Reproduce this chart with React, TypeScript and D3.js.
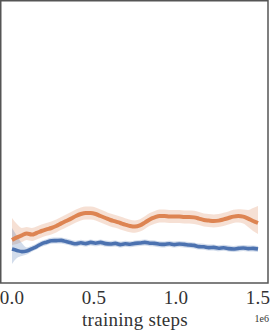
import React from "react";
import * as d3 from "d3";

const W = 272;
const H = 335;

const steps = d3.range(0, 1500001, 30000);

const orangeMean = [21.5, 22.8, 23.8, 24.8, 24.2, 25.0, 26.0, 26.8, 27.5, 28.5, 29.8, 31.0, 32.2, 33.5, 34.5, 35.0, 35.0, 34.5, 33.5, 32.5, 31.5, 30.8, 30.0, 29.2, 28.5, 28.2, 28.8, 30.2, 31.8, 32.8, 33.5, 33.5, 33.2, 33.2, 33.2, 33.0, 33.0, 32.8, 32.2, 31.5, 31.2, 31.0, 31.2, 31.8, 32.5, 33.2, 33.5, 33.2, 32.2, 31.0, 30.0];
const orangeUpper = [32.5, 29.5, 27.5, 28.0, 27.5, 28.2, 29.2, 30.0, 30.7, 31.7, 33.0, 34.2, 35.5, 36.8, 37.8, 38.3, 38.3, 37.8, 36.8, 35.8, 34.7, 34.0, 33.2, 32.4, 31.6, 31.3, 31.9, 33.4, 35.0, 36.0, 36.8, 36.8, 36.5, 36.5, 36.5, 36.3, 36.3, 36.1, 35.5, 34.8, 34.5, 34.3, 34.5, 35.1, 35.8, 36.6, 36.9, 36.8, 36.5, 37.5, 38.5];
const orangeLower = [19.0, 19.5, 20.5, 21.5, 21.0, 21.8, 22.8, 23.6, 24.3, 25.3, 26.6, 27.8, 29.0, 30.2, 31.2, 31.7, 31.7, 31.2, 30.2, 29.2, 28.3, 27.6, 26.8, 26.0, 25.4, 25.1, 25.7, 27.0, 28.6, 29.6, 30.3, 30.3, 30.0, 30.0, 30.0, 29.8, 29.8, 29.5, 29.0, 28.2, 28.0, 27.8, 28.0, 28.5, 29.2, 30.0, 30.2, 29.8, 28.0, 26.0, 24.5];

const blueMean = [17.0, 16.3, 15.7, 16.0, 17.1, 18.2, 19.6, 20.4, 21.1, 21.2, 21.3, 20.7, 20.1, 19.6, 20.1, 19.7, 20.3, 19.9, 20.3, 19.7, 19.5, 19.8, 19.2, 19.6, 19.4, 19.8, 20.0, 20.3, 19.9, 19.8, 19.4, 19.3, 19.6, 19.2, 19.5, 19.3, 19.0, 18.8, 18.2, 18.1, 17.7, 17.8, 17.4, 17.6, 17.2, 17.0, 17.3, 17.5, 17.2, 17.3, 17.0];
const blueUpper = [27.5, 23.5, 20.0, 17.8, 18.6, 19.7, 21.1, 21.9, 22.6, 22.7, 22.8, 22.2, 21.6, 21.1, 21.6, 21.2, 21.8, 21.4, 21.8, 21.2, 21.0, 21.3, 20.7, 21.1, 20.9, 21.3, 21.5, 21.8, 21.4, 21.3, 20.9, 20.8, 21.1, 20.7, 21.0, 20.8, 20.5, 20.3, 19.7, 19.6, 19.2, 19.3, 18.9, 19.1, 18.7, 18.5, 18.8, 19.0, 18.7, 18.8, 18.5];
const blueLower = [9.5, 12.5, 13.5, 14.2, 15.6, 16.7, 18.1, 18.9, 19.6, 19.7, 19.8, 19.2, 18.6, 18.1, 18.6, 18.2, 18.8, 18.4, 18.8, 18.2, 18.0, 18.3, 17.7, 18.1, 17.9, 18.3, 18.5, 18.8, 18.4, 18.3, 17.9, 17.8, 18.1, 17.7, 18.0, 17.8, 17.5, 17.3, 16.7, 16.6, 16.2, 16.3, 15.9, 16.1, 15.7, 15.5, 15.8, 16.0, 15.7, 15.8, 15.5];

const xTicks = [0, 500000, 1000000, 1500000];
const xTickLabels = ["0.0", "0.5", "1.0", "1.5"];
const xLabel = "training steps";
const xOffsetLabel = "1e6";

const ORANGE = "#dd8452";
const BLUE = "#4c72b0";

export default function App() {
  const frame = { left: 0.75, top: 0.75, right: 268, bottom: 283 };
  const x = d3.scaleLinear().domain([0, 1500000]).range([12, 258]);
  const y = d3.scaleLinear().domain([0, 141]).range([283, 1]);

  const line = (vals: number[]) =>
    d3
      .line<number>()
      .x((_, i) => x(steps[i]))
      .y((d) => y(d))
      .curve(d3.curveMonotoneX)(vals) as string;
  const area = (lo: number[], hi: number[]) =>
    d3
      .area<number>()
      .x((_, i) => x(steps[i]))
      .y0((_, i) => y(lo[i]))
      .y1((_, i) => y(hi[i]))
      .curve(d3.curveMonotoneX)(steps as any) as string;

  const font = "'Liberation Serif', 'DejaVu Serif', serif";

  return (
    <div style={{ position: "fixed", left: 0, top: 0 }}>
      <svg width={W} height={H} style={{ display: "block", background: "#fff" }}>
        <path d={area(orangeLower, orangeUpper)} fill={ORANGE} fillOpacity={0.25} />
        <path d={area(blueLower, blueUpper)} fill={BLUE} fillOpacity={0.25} />
        <path d={line(orangeMean)} fill="none" stroke={ORANGE} strokeWidth={4} strokeLinejoin="round" />
        <path d={line(blueMean)} fill="none" stroke={BLUE} strokeWidth={3.6} strokeLinejoin="round" />
        <rect
          x={frame.left}
          y={frame.top}
          width={frame.right - frame.left}
          height={frame.bottom - frame.top}
          fill="none"
          stroke="#555"
          strokeWidth={1.5}
        />
        {xTicks.map((t, i) => (
          <text
            key={t}
            x={x(t)}
            y={304}
            textAnchor="middle"
            fontFamily={font}
            fontSize={19}
            letterSpacing={0.3}
            fill="#333"
          >
            {xTickLabels[i]}
          </text>
        ))}
        <text x={135} y={326} textAnchor="middle" fontFamily={font} fontSize={19} letterSpacing={0.3} fill="#333">
          {xLabel}
        </text>
        <text x={269} y={322} textAnchor="end" fontFamily={font} fontSize={10} fill="#333">
          {xOffsetLabel}
        </text>
      </svg>
    </div>
  );
}
